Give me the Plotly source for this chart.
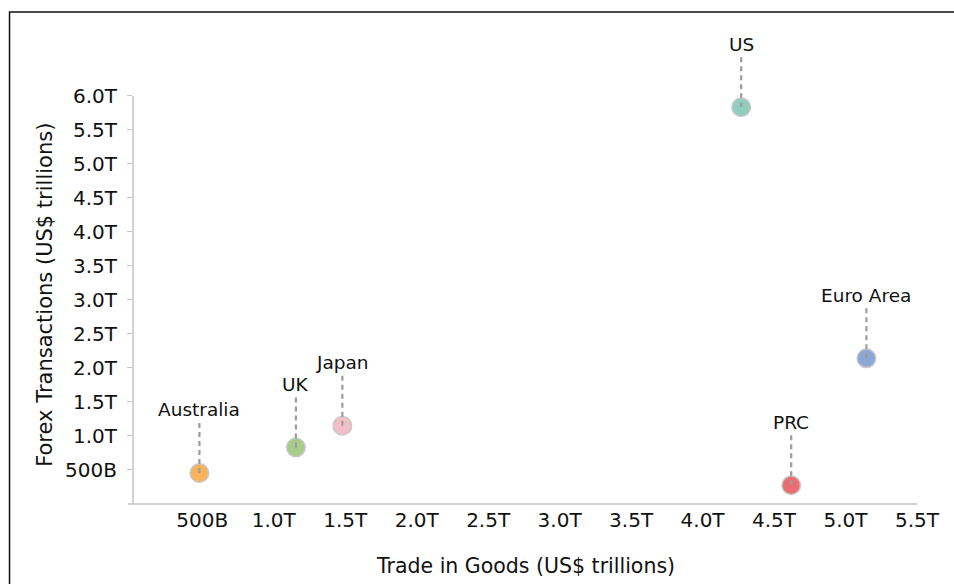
import plotly.graph_objects as go

# ---- data ----
countries = ["Australia", "UK", "Japan", "US", "Euro Area", "PRC"]
trade_goods = [0.48, 1.155, 1.48, 4.27, 5.146, 4.62]      # US$ trillions
forex_tx = [0.456, 0.83, 1.15, 5.83, 2.14, 0.275]          # US$ trillions
colors = ["#F9B35B", "#A8CC8C", "#F2BFC7", "#8FCDBE", "#8AA7D6", "#EC6D70"]

x_tickvals = [0.5, 1.0, 1.5, 2.0, 2.5, 3.0, 3.5, 4.0, 4.5, 5.0, 5.5]
x_ticktext = ["500B", "1.0T", "1.5T", "2.0T", "2.5T", "3.0T", "3.5T", "4.0T", "4.5T", "5.0T", "5.5T"]
y_tickvals = [0.5, 1.0, 1.5, 2.0, 2.5, 3.0, 3.5, 4.0, 4.5, 5.0, 5.5, 6.0]
y_ticktext = ["500B", "1.0T", "1.5T", "2.0T", "2.5T", "3.0T", "3.5T", "4.0T", "4.5T", "5.0T", "5.5T", "6.0T"]
y_axis_max = 6.0

FONT = "DejaVu Sans, Liberation Sans, Arial, sans-serif"
TXT = "#111111"
AXIS = "#c3c3c3"

fig = go.Figure()
fig.add_trace(go.Scatter(
    x=trade_goods, y=forex_tx, mode="markers",
    marker=dict(size=18.5, color=colors, line=dict(color="#c8c8c8", width=1.5)),
    text=countries, hoverinfo="text", showlegend=False, cliponaxis=False,
))

shapes = []
annotations = []

# y axis line drawn only up to the top tick
shapes.append(dict(type="line", xref="paper", yref="y", x0=0, x1=0, y0=0, y1=y_axis_max,
                   line=dict(color=AXIS, width=1.5), layer="below"))
# x axis line, extended slightly left past the y axis
shapes.append(dict(type="line", xref="paper", yref="paper", x0=-0.0064, x1=1, y0=0, y1=0,
                   line=dict(color=AXIS, width=1.5), layer="below"))

for name, xv, yv in zip(countries, trade_goods, forex_tx):
    shapes.append(dict(
        type="line", xref="x", yref="y", ysizemode="pixel", yanchor=yv,
        x0=xv, x1=xv, y0=0, y1=50, layer="above",
        line=dict(color="#9c9c9c", width=2.2, dash="5px,4px"),
    ))
    annotations.append(dict(
        x=xv, y=yv, xref="x", yref="y", text=name, showarrow=False,
        yshift=63, font=dict(family=FONT, size=18.5, color=TXT),
    ))

# outer frame
shapes.append(dict(type="rect", xref="paper", yref="paper",
                   x0=-0.1575, x1=1.3, y0=-0.4, y1=1.0041,
                   line=dict(color="#111111", width=1.5), fillcolor="rgba(0,0,0,0)",
                   layer="below"))

annotations.append(dict(
    text="Trade in Goods (US$ trillions)", xref="paper", yref="paper",
    x=0.5, y=-0.1265, showarrow=False, xanchor="center", yanchor="middle",
    font=dict(family=FONT, size=20.5, color=TXT),
))
annotations.append(dict(
    text="Forex Transactions (US$ trillions)", xref="paper", yref="paper",
    x=-0.1125, y=0.4265, showarrow=False, xanchor="center", yanchor="middle",
    textangle=-90, font=dict(family=FONT, size=21, color=TXT),
))

fig.update_layout(
    width=954, height=584,
    margin=dict(l=133, r=37, t=14, b=80),
    paper_bgcolor="white", plot_bgcolor="white",
    shapes=shapes, annotations=annotations,
    xaxis=dict(range=[0.0154, 5.5], tickvals=x_tickvals, ticktext=x_ticktext,
               showgrid=False, zeroline=False, showline=False,
               ticks="", ticklabelstandoff=2,
               tickfont=dict(family=FONT, size=20, color=TXT), fixedrange=True),
    yaxis=dict(range=[0, 7.2], tickvals=y_tickvals, ticktext=y_ticktext,
               showgrid=False, zeroline=False, showline=False,
               ticks="outside", ticklen=5, tickcolor=AXIS, tickwidth=1,
               ticklabelstandoff=6,
               tickfont=dict(family=FONT, size=20, color=TXT), fixedrange=True),
    font=dict(family=FONT, color=TXT),
)

fig.write_html("out.html", config={"displayModeBar": False},
               post_script="document.body.style.margin='0';document.body.style.overflow='hidden';")
